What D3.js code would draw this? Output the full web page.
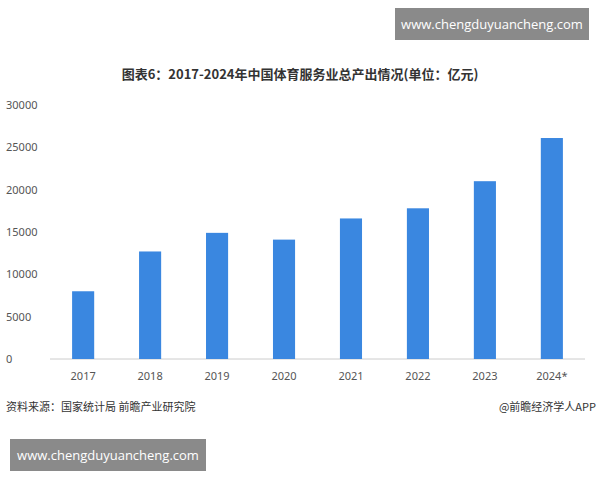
<!DOCTYPE html>
<html><head><meta charset="utf-8">
<script src="https://cdn.jsdelivr.net/npm/d3@7"></script>
<style>body{margin:0;background:#fff;font-family:"Noto Sans CJK SC","Noto Sans",sans-serif;}</style>
</head><body>
<svg width="600" height="480"></svg>
<script>
const years = ["2017","2018","2019","2020","2021","2022","2023","2024*"];
const output = [8000, 12700, 14900, 14100, 16600, 17800, 21000, 26100];
const yTicks = [0, 5000, 10000, 15000, 20000, 25000, 30000];

const svg = d3.select("svg");
const font = "Noto Sans CJK SC";

// top watermark box
svg.append("rect").attr("x", 395).attr("y", 8).attr("width", 194).attr("height", 32).attr("fill", "#8a8a8a");
svg.append("text").attr("x", 492).attr("y", 29).attr("text-anchor", "middle")
    .attr("fill", "#fff").attr("font-size", 13).attr("font-family", "Open Sans").text("www.chengduyuancheng.com");

svg.append("text").attr("x", 300).attr("y", 79).attr("text-anchor", "middle")
    .attr("font-size", 13).attr("font-weight", "bold").attr("fill", "#333").attr("font-family", font)
    .text("图表6：2017-2024年中国体育服务业总产出情况(单位：亿元)");

const x = d3.scaleBand().domain(years).range([50, 585]).paddingInner(0.67).paddingOuter(0.33);
const y = d3.scaleLinear().domain([0, 30000]).range([359, 105]);

svg.append("g").selectAll("text").data(yTicks).enter().append("text")
    .attr("x", 6).attr("y", d => y(d) + 4).attr("font-size", 11).attr("fill", "#555")
    .attr("font-family", "Noto Sans").text(d => d);

svg.append("line").attr("x1", 50).attr("x2", 585).attr("y1", y(0)).attr("y2", y(0)).attr("stroke", "#ccc");

svg.append("g").selectAll("rect").data(output).enter().append("rect")
    .attr("x", (d, i) => x(years[i])).attr("width", x.bandwidth())
    .attr("y", d => y(d)).attr("height", d => y(0) - y(d)).attr("fill", "#3a87e0");

svg.append("g").selectAll("text").data(years).enter().append("text")
    .attr("x", d => x(d) + x.bandwidth() / 2).attr("y", 380).attr("text-anchor", "middle")
    .attr("font-size", 11).attr("fill", "#555").attr("font-family", "Noto Sans").text(d => d);

svg.append("text").attr("x", 6).attr("y", 411).attr("font-size", 11).attr("fill", "#333")
    .attr("font-family", font).text("资料来源：国家统计局 前瞻产业研究院");
svg.append("text").attr("x", 596).attr("y", 411).attr("text-anchor", "end").attr("font-size", 11)
    .attr("fill", "#333").attr("font-family", font).text("@前瞻经济学人APP");

// bottom watermark box
svg.append("rect").attr("x", 10).attr("y", 439).attr("width", 196).attr("height", 32).attr("fill", "#8a8a8a");
svg.append("text").attr("x", 108).attr("y", 460).attr("text-anchor", "middle")
    .attr("fill", "#fff").attr("font-size", 13).attr("font-family", "Open Sans").text("www.chengduyuancheng.com");
</script>
</body></html>
